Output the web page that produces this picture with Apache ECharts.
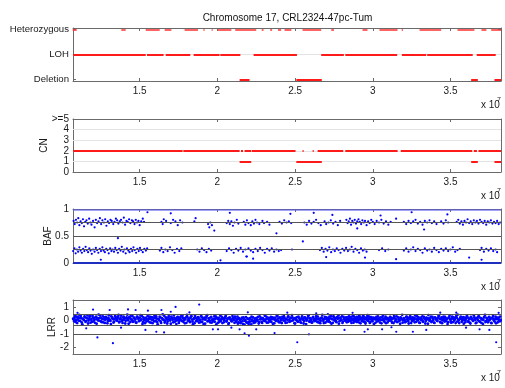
<!DOCTYPE html>
<html><head><meta charset="utf-8">
<script src="https://cdn.jsdelivr.net/npm/echarts@6/dist/echarts.min.js"></script>
<style>html,body{margin:0;padding:0;background:#fff}#c{width:505px;height:388px}</style>
</head><body><div id="c"></div><script>
const titleText = 'Chromosome 17, CRL2324-47pc-Tum';
const xMin = 1.071, xMax = 3.825;
const xTicks = [1.5, 2, 2.5, 3, 3.5];
const xExponentLabel = ['x 10', '7'];
const stateTicks = [0, 1, 2];
const stateLabels = ['Deletion', 'LOH', 'Heterozygous'];
const cnTicks = [0, 1, 2, 3, 4, 5];
const cnLabels = ['0', '1', '2', '3', '4', '>=5'];
const bafTicks = [0, 0.5, 1];
const lrrTicks = [-2, -1, 0, 1];
const panelNames = ['', 'CN', 'BAF', 'LRR'];

// state segments [start, end] (x 10^7)
const hetSegments = [[1.069,1.095],[1.382,1.410],[1.539,1.629],[1.661,1.704],[1.789,1.875],[1.910,1.918],[1.963,1.970],[2.002,2.090],[2.115,2.250],[2.285,2.297],[2.340,2.352],[2.390,2.410],[2.432,2.476],[2.548,2.668],[2.733,2.750],[2.934,2.966],[3.043,3.159],[3.186,3.194],[3.301,3.440],[3.545,3.654],[3.699,3.731],[3.762,3.825]];
const lohSegments = [[1.071,1.539],[1.547,1.654],[1.667,1.826],[1.847,2.014],[2.019,2.148],[2.233,2.512],[2.668,2.814],[2.823,3.157],[3.187,3.344],[3.350,3.643],[3.669,3.791]];
const delSegments = [[2.143,2.207],[2.508,2.672],[3.633,3.676],[3.783,3.825]];
// copy number segments
const cn2Segments = [[1.071,1.776],[1.781,2.143],[2.152,2.165],[2.175,2.218],[2.222,2.503],[2.548,2.555],[2.613,2.620],[2.645,2.810],[2.823,3.160],[3.180,3.640],[3.650,3.670],[3.680,3.825]];
const cn1Segments = [[2.143,2.218],[2.508,2.672],[3.633,3.676],[3.783,3.825]];

// BAF
const bafRefLines = [0.25, 0.5, 0.75];
const bafTopBand = [[1.071, 3.825]];
const bafTopLevel = 0.985;
const bafBottomBand = [[1.071, 3.825]];
const bafBottomLevel = 0.008;
const bafUpper = [[1.075,0.78],[1.082,0.72],[1.09,0.80],[1.098,0.75],[1.105,0.83],[1.112,0.70],[1.12,0.77],[1.128,0.74],[1.135,0.81],[1.142,0.68],[1.15,0.76],[1.158,0.79],[1.166,0.73],[1.175,0.82],[1.183,0.75],[1.19,0.71],[1.2,0.78],[1.21,0.66],[1.218,0.80],[1.226,0.74],[1.235,0.77],[1.244,0.83],[1.252,0.72],[1.26,0.79],[1.27,0.75],[1.278,0.81],[1.286,0.69],[1.295,0.77],[1.303,0.74],[1.312,0.80],[1.32,0.78],[1.33,0.72],[1.338,0.76],[1.347,0.82],[1.355,0.79],[1.363,0.73],[1.372,0.77],[1.38,0.80],[1.39,0.75],[1.398,0.84],[1.406,0.71],[1.415,0.78],[1.423,0.76],[1.432,0.81],[1.44,0.74],[1.45,0.79],[1.458,0.77],[1.467,0.72],[1.475,0.80],[1.483,0.75],[1.492,0.78],[1.50,0.70],[1.51,0.77],[1.52,0.82],[1.528,0.76],
[1.64,0.76],[1.648,0.72],[1.655,0.81],[1.67,0.78],[1.70,0.74],[1.715,0.80],[1.73,0.77],[1.745,0.70],[1.76,0.79],[1.775,0.75],[1.852,0.77],[1.86,0.83],[1.94,0.72],[1.948,0.66],[1.955,0.75],[1.965,0.70],
[2.06,0.74],[2.07,0.78],[2.08,0.72],[2.09,0.77],[2.10,0.69],[2.11,0.75],[2.125,0.80],[2.135,0.73],[2.17,0.76],[2.18,0.71],[2.19,0.79],[2.20,0.74],[2.215,0.70],[2.225,0.77],[2.235,0.73],[2.245,0.80],[2.255,0.75],[2.27,0.72],[2.29,0.78],[2.30,0.74],[2.32,0.76],[2.335,0.71],
[2.40,0.76],[2.415,0.73],[2.43,0.79],[2.445,0.75],[2.46,0.77],[2.475,0.74],[2.56,0.75],[2.575,0.71],[2.59,0.78],[2.605,0.73],[2.62,0.76],[2.635,0.80],[2.65,0.74],[2.665,0.70],[2.69,0.77],[2.70,0.72],[2.715,0.75],[2.73,0.79],[2.745,0.73],[2.76,0.76],[2.775,0.70],[2.79,0.78],
[2.83,0.80],[2.838,0.74],[2.845,0.77],[2.853,0.82],[2.86,0.71],[2.868,0.78],[2.876,0.75],[2.884,0.80],[2.892,0.73],[2.90,0.77],[2.908,0.81],[2.916,0.76],[2.925,0.72],[2.933,0.79],[2.942,0.75],[2.95,0.78],[2.96,0.70],[2.97,0.77],[2.98,0.74],[2.99,0.80],[3.00,0.76],[3.012,0.72],[3.025,0.78],[3.04,0.75],[3.055,0.80],[3.07,0.73],[3.085,0.77],[3.10,0.71],[3.115,0.76],[3.15,0.82],
[3.20,0.76],[3.215,0.72],[3.23,0.78],[3.245,0.74],[3.26,0.77],[3.275,0.80],[3.29,0.73],[3.305,0.76],[3.32,0.71],[3.335,0.78],[3.35,0.75],[3.365,0.79],[3.38,0.74],[3.395,0.77],[3.41,0.72],[3.44,0.77],[3.455,0.73],[3.47,0.79],[3.485,0.75],
[3.54,0.76],[3.55,0.80],[3.56,0.73],[3.57,0.77],[3.58,0.71],[3.59,0.78],[3.60,0.75],[3.61,0.81],[3.62,0.74],[3.63,0.77],[3.64,0.72],[3.65,0.79],[3.66,0.75],[3.67,0.78],[3.68,0.73],[3.69,0.80],[3.70,0.76],[3.71,0.74],[3.72,0.78],[3.73,0.71],[3.74,0.77],[3.75,0.75],[3.76,0.79],[3.77,0.73],[3.78,0.76],[3.79,0.74],[3.80,0.78],[3.81,0.72],[3.82,0.75]];
const bafLower = [[1.072,0.22],[1.08,0.27],[1.088,0.18],[1.096,0.25],[1.104,0.21],[1.112,0.29],[1.12,0.23],[1.128,0.19],[1.136,0.26],[1.144,0.22],[1.152,0.30],[1.16,0.24],[1.168,0.20],[1.176,0.27],[1.184,0.23],[1.192,0.17],[1.20,0.25],[1.21,0.21],[1.218,0.28],[1.226,0.24],[1.234,0.19],[1.243,0.26],[1.251,0.22],[1.26,0.29],[1.268,0.23],[1.276,0.20],[1.285,0.26],[1.293,0.24],[1.301,0.18],[1.31,0.27],[1.318,0.22],[1.326,0.25],[1.335,0.21],[1.343,0.28],[1.352,0.24],[1.36,0.19],[1.368,0.26],[1.377,0.23],[1.385,0.30],[1.394,0.21],[1.402,0.25],[1.41,0.18],[1.418,0.27],[1.427,0.23],[1.435,0.20],[1.444,0.26],[1.452,0.22],[1.46,0.29],[1.468,0.24],[1.477,0.19],[1.485,0.26],[1.494,0.22],[1.502,0.28],[1.51,0.24],[1.52,0.20],[1.53,0.26],[1.54,0.23],[1.548,0.27],
[1.63,0.23],[1.64,0.28],[1.652,0.20],[1.665,0.25],[1.68,0.22],[1.695,0.29],[1.71,0.24],[1.725,0.19],[1.74,0.26],[1.755,0.22],[1.768,0.27],[1.87,0.25],[1.885,0.21],[1.90,0.27],[1.915,0.24],[1.93,0.20],[1.945,0.26],[1.96,0.23],
[2.06,0.22],[2.075,0.27],[2.09,0.24],[2.105,0.19],[2.12,0.26],[2.135,0.23],[2.15,0.28],[2.165,0.21],[2.18,0.25],[2.19,0.12],[2.20,0.27],[2.215,0.23],[2.23,0.20],[2.245,0.26],[2.26,0.22],[2.275,0.28],[2.29,0.24],[2.305,0.19],[2.32,0.26],[2.335,0.23],[2.35,0.27],[2.365,0.21],[2.38,0.25],[2.395,0.22],[2.41,0.24],[2.48,0.25],
[2.66,0.24],[2.672,0.28],[2.684,0.21],[2.696,0.26],[2.708,0.23],[2.72,0.29],[2.732,0.20],[2.744,0.25],[2.756,0.22],[2.768,0.27],[2.78,0.24],[2.792,0.19],[2.804,0.26],[2.816,0.23],[2.828,0.28],[2.84,0.22],[2.852,0.25],[2.864,0.30],[2.876,0.21],[2.888,0.26],[2.90,0.24],[2.912,0.19],[2.924,0.27],[2.936,0.23],[2.948,0.25],[2.96,0.21],
[3.04,0.24],[3.06,0.27],[3.08,0.22],[3.10,0.25],[3.20,0.23],[3.215,0.27],[3.23,0.21],[3.245,0.25],[3.26,0.29],[3.275,0.22],[3.29,0.26],[3.305,0.24],[3.32,0.19],[3.335,0.27],[3.35,0.23],[3.365,0.25],[3.38,0.21],[3.395,0.28],[3.41,0.24],[3.425,0.20],[3.44,0.26],[3.455,0.23],[3.47,0.27],[3.485,0.22],[3.50,0.25],[3.515,0.29],[3.53,0.21],[3.545,0.24],[3.56,0.26],
[3.69,0.24],[3.70,0.28],[3.715,0.21],[3.73,0.26],[3.745,0.23],[3.76,0.27],[3.775,0.22],[3.79,0.25],[3.80,0.20]];
const bafOther = [[1.36,0.46],[2.186,0.12],[2.74,0.89],[2.90,0.64],[2.38,0.55],[1.98,0.60],[2.55,0.40],[3.33,0.62],[2.08,0.93],[2.47,0.91],[1.70,0.92],[3.05,0.88],[2.23,0.08],[3.62,0.10],[2.70,0.11],[2.95,0.10],[1.55,0.94],[2.62,0.93],[3.25,0.94],[3.48,0.90],[1.25,0.06],[2.02,0.05],[3.15,0.07],[3.70,0.06]];

// LRR
const lrrRefLines = [0.47, -0.4, -1];
const lrrPoints = [[1.072,0.12],[1.079,-0.08],[1.085,0.31],[1.091,0.02],[1.098,-0.21],[1.104,0.22],[1.111,0.40],[1.117,-0.05],[1.124,0.15],[1.131,-0.30],[1.138,0.07],[1.145,0.28],[1.151,-0.12],[1.158,0.18],[1.164,0.36],
[1.171,-0.02],[1.177,0.25],[1.184,-0.18],[1.190,0.10],[1.197,0.33],[1.203,-0.09],[1.210,0.04],[1.216,0.21],[1.223,-0.25],[1.230,0.13],[1.236,0.42],[1.243,-0.04],[1.250,0.17],[1.256,-0.14],[1.263,0.29],
[1.270,0.06],[1.276,-0.20],[1.283,0.24],[1.289,0.11],[1.296,-0.07],[1.302,0.37],[1.309,0.01],[1.315,-0.28],[1.322,0.19],[1.329,0.08],[1.335,-0.11],[1.342,0.30],[1.348,0.14],[1.355,-0.03],[1.361,0.26],
[1.368,-0.16],[1.374,0.09],[1.381,0.34],[1.387,-0.06],[1.394,0.20],[1.400,0.03],[1.407,-0.24],[1.413,0.16],[1.420,0.41],[1.426,-0.01],[1.433,0.23],[1.440,-0.13],[1.446,0.10],[1.453,0.32],[1.459,-0.08],
[1.466,0.18],[1.472,0.05],[1.479,-0.19],[1.485,0.27],[1.492,0.12],[1.498,-0.04],[1.505,0.38],[1.511,0.07],[1.518,-0.27],[1.524,0.21],[1.531,0.00],[1.537,0.15],[1.544,-0.10],[1.551,0.30],[1.557,0.09],
[1.564,-0.15],[1.570,0.24],[1.577,0.04],[1.583,-0.22],[1.590,0.19],[1.596,0.35],[1.603,-0.05],[1.609,0.13],[1.616,-0.30],[1.622,0.08],[1.629,0.27],[1.635,-0.09],[1.642,0.16],[1.648,0.43],[1.655,0.02],
[1.661,-0.17],[1.668,0.22],[1.674,0.06],[1.681,-0.08],[1.687,0.31],[1.694,0.11],[1.700,-0.26],[1.707,0.18],[1.713,0.03],[1.720,0.36],[1.726,-0.12],[1.733,0.14],[1.739,-0.02],[1.746,0.25],[1.752,-0.20],
[1.759,0.09],[1.765,0.29],[1.772,-0.06],[1.778,0.17],[1.785,0.01],[1.791,-0.23],[1.798,0.21],[1.804,0.39],[1.811,-0.03],[1.817,0.12],[1.824,-0.14],[1.830,0.26],[1.837,0.05],[1.843,-0.29],[1.850,0.15],
[1.856,0.33],[1.863,-0.07],[1.869,0.10],[1.876,0.23],[1.882,-0.18],[1.889,0.04],[1.895,0.30],[1.902,-0.11],[1.908,0.16],[1.915,0.07],[1.921,-0.25],[1.928,0.20],[1.934,0.37],[1.941,-0.04],[1.947,0.13],
[1.954,-0.16],[1.960,0.24],[1.967,0.02],[1.973,-0.09],[1.980,0.28],[1.986,0.11],[1.993,-0.31],[1.999,0.18],[2.006,0.06],[2.012,-0.13],[2.019,0.34],[2.025,0.08],[2.032,-0.21],[2.038,0.15],[2.045,0.00],
[2.051,0.25],[2.058,-0.10],[2.064,0.12],[2.071,-0.27],[2.077,0.19],[2.084,0.05],[2.090,-0.05],[2.097,0.31],[2.103,0.09],[2.110,-0.19],[2.116,0.16],[2.123,-0.02],[2.129,0.27],[2.136,-0.14],[2.142,0.07],
[2.149,-0.22],[2.155,0.10],[2.162,-0.08],[2.168,0.21],[2.175,-0.33],[2.181,0.02],[2.188,-0.15],[2.194,0.14],[2.201,-0.27],[2.207,0.05],[2.214,-0.10],[2.220,0.26],[2.227,-0.04],[2.233,-0.20],[2.240,0.11],
[2.246,-0.07],[2.253,0.18],[2.259,0.03],[2.266,-0.24],[2.272,0.29],[2.279,0.08],[2.285,-0.12],[2.292,0.15],[2.298,-0.02],[2.305,0.33],[2.311,0.06],[2.318,-0.18],[2.324,0.20],[2.331,0.01],[2.337,-0.09],
[2.344,0.24],[2.350,0.10],[2.357,-0.26],[2.363,0.17],[2.370,0.04],[2.376,-0.06],[2.383,0.36],[2.389,0.12],[2.396,-0.15],[2.402,0.22],[2.409,0.00],[2.415,-0.21],[2.422,0.14],[2.428,0.30],[2.435,-0.03],
[2.441,0.09],[2.448,-0.17],[2.454,0.26],[2.461,0.05],[2.467,-0.08],[2.474,0.19],[2.480,0.38],[2.487,-0.01],[2.493,0.13],[2.500,-0.24],[2.506,0.07],[2.513,0.23],[2.519,-0.11],[2.526,0.16],[2.532,0.02],
[2.539,-0.19],[2.545,0.28],[2.552,0.10],[2.558,-0.05],[2.565,0.20],[2.571,-0.28],[2.578,0.06],[2.584,0.33],[2.591,-0.09],[2.597,0.15],[2.604,0.01],[2.610,-0.16],[2.617,0.25],[2.623,0.08],[2.630,-0.03],
[2.636,0.31],[2.643,-0.13],[2.649,0.12],[2.656,0.04],[2.662,-0.22],[2.669,0.18],[2.675,0.39],[2.682,-0.06],[2.688,0.09],[2.695,-0.18],[2.701,0.22],[2.708,0.03],[2.714,-0.10],[2.721,0.27],[2.727,0.14],
[2.734,-0.25],[2.740,0.07],[2.747,0.30],[2.753,-0.02],[2.760,0.16],[2.766,-0.14],[2.773,0.11],[2.779,0.35],[2.786,-0.07],[2.792,0.19],[2.799,0.02],[2.805,-0.20],[2.812,0.24],[2.818,0.08],[2.825,-0.04],
[2.831,0.17],[2.836,0.05],[2.841,-0.12],[2.846,0.28],[2.851,0.10],[2.856,-0.06],[2.861,0.21],[2.866,0.00],[2.871,0.34],[2.876,-0.18],[2.881,0.13],[2.886,0.07],[2.891,-0.09],[2.896,0.25],[2.901,0.15],[2.906,-0.02],[2.911,0.30],[2.916,0.09],[2.921,-0.23],[2.926,0.18],
[2.931,0.04],[2.936,-0.08],[2.941,0.26],[2.946,0.12],[2.951,-0.15],[2.956,0.20],[2.961,0.02],[2.966,0.37],[2.971,-0.05],[2.976,0.14],[2.981,-0.20],[2.986,0.08],[2.991,0.23],[2.996,-0.01],[3.001,0.11],
[3.007,-0.27],[3.013,0.16],[3.020,0.05],[3.026,-0.10],[3.033,0.29],[3.039,0.09],[3.046,-0.17],[3.052,0.21],[3.059,0.01],[3.065,0.34],[3.072,-0.06],[3.078,0.13],[3.085,-0.22],[3.091,0.18],[3.098,0.06],
[3.104,-0.03],[3.111,0.25],[3.117,0.10],[3.124,-0.19],[3.130,0.15],[3.137,0.32],[3.143,-0.08],[3.150,0.07],[3.156,-0.13],[3.163,0.22],[3.169,0.03],[3.176,-0.26],[3.182,0.17],[3.189,0.40],[3.195,-0.01],
[3.202,0.12],[3.208,-0.15],[3.215,0.24],[3.221,0.05],[3.228,-0.07],[3.234,0.19],[3.241,0.30],[3.247,-0.21],[3.254,0.09],[3.260,-0.02],[3.267,0.16],[3.273,0.35],[3.280,-0.11],[3.286,0.06],[3.293,0.23],
[3.299,-0.18],[3.306,0.11],[3.312,0.02],[3.319,0.28],[3.325,-0.09],[3.332,0.14],[3.338,-0.24],[3.345,0.20],[3.351,0.07],[3.358,0.38],[3.364,-0.04],[3.371,0.16],[3.377,-0.13],[3.384,0.25],[3.390,0.03],
[3.397,-0.20],[3.403,0.18],[3.410,0.09],[3.416,-0.06],[3.423,0.31],[3.429,0.12],[3.436,-0.16],[3.442,0.21],[3.449,0.00],[3.455,0.27],[3.462,-0.10],[3.468,0.15],[3.475,0.05],[3.481,-0.28],[3.488,0.19],
[3.494,0.34],[3.501,-0.05],[3.507,0.13],[3.514,-0.14],[3.520,0.22],[3.527,0.06],[3.533,-0.21],[3.540,0.17],[3.546,0.41],[3.553,-0.02],[3.559,0.10],[3.566,0.26],[3.572,-0.12],[3.579,0.08],[3.585,-0.25],
[3.592,0.20],[3.598,0.03],[3.605,0.31],[3.611,-0.08],[3.618,0.14],[3.624,-0.17],[3.631,0.24],[3.637,0.07],[3.644,-0.04],[3.650,0.36],[3.657,0.11],[3.663,-0.22],[3.670,0.18],[3.676,0.01],[3.683,0.28],
[3.689,-0.11],[3.696,0.15],[3.702,0.05],[3.709,-0.27],[3.715,0.21],[3.722,0.39],[3.728,-0.06],[3.735,0.12],[3.741,-0.15],[3.748,0.25],[3.754,0.04],[3.761,-0.19],[3.767,0.17],[3.774,0.32],[3.780,-0.03],
[3.787,0.10],[3.793,-0.23],[3.800,0.20],[3.806,0.07],[3.813,-0.09],[3.819,0.27],[3.823,0.02]];
const lrrPointsB = [[1.075,0.05],[1.082,0.19],[1.088,-0.13],[1.095,0.26],[1.101,0.09],[1.107,-0.03],[1.114,0.17],[1.121,0.32],[1.127,-0.16],[1.134,0.11],[1.141,0.01],[1.148,0.23],[1.155,-0.07],[1.161,0.14],[1.168,-0.24],
[1.174,0.08],[1.181,0.30],[1.187,0.04],[1.194,-0.11],[1.200,0.20],[1.207,0.12],[1.213,-0.19],[1.220,0.27],[1.226,0.06],[1.233,-0.02],[1.240,0.16],[1.246,0.35],[1.253,-0.09],[1.259,0.10],[1.266,-0.15],
[1.273,0.22],[1.279,0.03],[1.286,0.13],[1.292,-0.23],[1.299,0.18],[1.305,0.07],[1.312,-0.05],[1.318,0.29],[1.325,0.15],[1.332,-0.17],[1.338,0.09],[1.345,0.24],[1.351,-0.01],[1.358,0.11],[1.364,0.39],
[1.371,-0.10],[1.377,0.17],[1.384,0.05],[1.390,-0.20],[1.397,0.26],[1.403,0.13],[1.410,-0.04],[1.416,0.21],[1.423,0.08],[1.429,-0.26],[1.436,0.15],[1.443,0.33],[1.449,0.02],[1.456,-0.12],[1.462,0.19],
[1.469,0.07],[1.475,-0.16],[1.482,0.24],[1.488,0.14],[1.495,-0.07],[1.501,0.20],[1.508,0.02],[1.514,0.31],[1.521,-0.13],[1.527,0.10],[1.534,-0.22],[1.541,0.17],[1.547,0.06],[1.554,-0.03],[1.560,0.26],
[1.567,0.12],[1.573,-0.18],[1.580,0.21],[1.586,0.03],[1.593,-0.09],[1.599,0.16],[1.606,0.29],[1.612,-0.14],[1.619,0.09],[1.625,0.00],[1.632,0.22],[1.638,-0.20],[1.645,0.13],[1.651,0.05],[1.658,0.33],
[1.664,-0.06],[1.671,0.15],[1.677,-0.24],[1.684,0.20],[1.690,0.08],[1.697,-0.02],[1.703,0.27],[1.710,0.11],[1.716,-0.15],[1.723,0.18],[1.729,0.04],[1.736,-0.28],[1.742,0.23],[1.749,0.10],[1.755,-0.05],
[1.762,0.19],[1.768,0.01],[1.775,0.34],[1.781,-0.12],[1.788,0.14],[1.794,0.06],[1.801,-0.19],[1.807,0.25],[1.814,0.09],[1.820,-0.04],[1.827,0.17],[1.833,0.30],[1.840,-0.10],[1.846,0.07],[1.853,-0.22],
[1.859,0.21],[1.866,0.12],[1.872,-0.06],[1.879,0.16],[1.885,0.02],[1.892,-0.14],[1.898,0.26],[1.905,0.08],[1.911,-0.27],[1.918,0.19],[1.924,0.04],[1.931,0.31],[1.937,-0.09],[1.944,0.13],[1.950,-0.01],
[1.957,0.22],[1.963,-0.18],[1.970,0.10],[1.976,0.05],[1.983,-0.11],[1.989,0.28],[1.996,0.15],[2.002,-0.20],[2.009,0.18],[2.015,0.02],[2.022,-0.06],[2.028,0.24],[2.035,0.09],[2.041,-0.15],[2.048,0.14],
[2.054,0.32],[2.061,-0.04],[2.067,0.11],[2.074,-0.21],[2.080,0.20],[2.087,0.06],[2.093,-0.09],[2.100,0.17],[2.106,0.01],[2.113,0.26],[2.119,-0.13],[2.126,0.08],[2.132,-0.25],[2.139,0.15],[2.145,0.03],
[2.152,-0.10],[2.158,0.19],[2.165,-0.28],[2.171,0.06],[2.178,-0.05],[2.184,0.23],[2.191,-0.18],[2.197,0.09],[2.204,-0.12],[2.210,0.16],[2.217,-0.30],[2.223,0.04],[2.230,0.21],[2.236,-0.08],[2.243,-0.16],
[2.249,0.13],[2.256,-0.03],[2.262,0.25],[2.269,-0.14],[2.275,0.07],[2.282,0.18],[2.288,-0.20],[2.295,0.10],[2.301,0.02],[2.308,-0.07],[2.314,0.27],[2.321,0.12],[2.327,-0.17],[2.334,0.15],[2.340,0.04],
[2.347,-0.11],[2.353,0.22],[2.360,0.08],[2.366,-0.23],[2.373,0.19],[2.379,0.01],[2.386,0.30],[2.392,-0.06],[2.399,0.14],[2.405,-0.16],[2.412,0.09],[2.418,0.24],[2.425,-0.02],[2.431,0.17],[2.438,-0.19],
[2.444,0.11],[2.451,0.03],[2.457,0.28],[2.464,-0.12],[2.470,0.15],[2.477,-0.05],[2.483,0.21],[2.490,0.07],[2.496,-0.22],[2.503,0.18],[2.509,0.00],[2.516,-0.09],[2.522,0.26],[2.529,0.12],[2.535,-0.15],
[2.542,0.14],[2.548,0.04],[2.555,-0.24],[2.561,0.22],[2.568,0.09],[2.574,-0.03],[2.581,0.17],[2.587,0.36],[2.594,-0.12],[2.600,0.08],[2.607,-0.18],[2.613,0.20],[2.620,0.02],[2.626,-0.07],[2.633,0.15],
[2.639,0.05],[2.646,0.27],[2.652,-0.16],[2.659,0.11],[2.665,-0.04],[2.672,0.19],[2.678,0.07],[2.685,-0.21],[2.691,0.24],[2.698,0.12],[2.704,-0.08],[2.711,0.16],[2.717,0.01],[2.724,-0.14],[2.730,0.30],
[2.737,0.10],[2.743,-0.19],[2.750,0.20],[2.756,0.05],[2.763,-0.06],[2.769,0.23],[2.776,0.13],[2.782,-0.25],[2.789,0.15],[2.795,0.03],[2.802,0.28],[2.808,-0.10],[2.815,0.12],[2.821,-0.01],[2.828,0.22],
[2.833,-0.15],[2.838,0.19],[2.843,0.08],[2.848,-0.04],[2.853,0.24],[2.858,0.14],[2.863,-0.20],[2.868,0.11],[2.873,0.03],[2.878,0.29],[2.883,-0.07],[2.888,0.17],[2.893,0.06],[2.898,-0.13],[2.903,0.21],
[2.908,0.01],[2.913,-0.17],[2.918,0.26],[2.923,0.10],[2.928,-0.05],[2.933,0.16],[2.938,0.33],[2.943,-0.11],[2.948,0.07],[2.953,-0.24],[2.958,0.13],[2.963,0.22],[2.968,-0.02],[2.973,0.09],[2.978,0.27],
[2.983,-0.14],[2.988,0.15],[2.993,0.04],[2.998,-0.08],[3.004,0.20],[3.010,0.08],[3.017,-0.19],[3.023,0.25],[3.030,0.11],[3.036,-0.04],[3.043,0.16],[3.049,0.02],[3.056,-0.23],[3.062,0.19],[3.069,0.09],
[3.075,-0.11],[3.082,0.27],[3.088,0.06],[3.095,-0.16],[3.101,0.14],[3.108,0.00],[3.114,0.23],[3.121,-0.08],[3.127,0.12],[3.134,-0.21],[3.140,0.18],[3.147,0.04],[3.153,0.29],[3.160,-0.12],[3.166,0.10],
[3.173,-0.03],[3.179,0.21],[3.186,0.07],[3.192,-0.18],[3.199,0.15],[3.205,0.02],[3.212,-0.10],[3.218,0.26],[3.225,0.13],[3.231,-0.24],[3.238,0.09],[3.244,0.17],[3.251,-0.06],[3.257,0.22],[3.264,0.04],
[3.270,-0.15],[3.277,0.12],[3.283,0.31],[3.290,-0.01],[3.296,0.08],[3.303,-0.20],[3.309,0.19],[3.316,0.06],[3.322,-0.12],[3.329,0.24],[3.335,0.10],[3.342,-0.04],[3.348,0.16],[3.355,-0.26],[3.361,0.13],
[3.368,0.03],[3.374,0.27],[3.381,-0.09],[3.387,0.11],[3.394,-0.17],[3.400,0.21],[3.407,0.05],[3.413,-0.02],[3.420,0.18],[3.426,0.34],[3.433,-0.13],[3.439,0.08],[3.446,-0.22],[3.452,0.16],[3.459,0.01],
[3.465,0.24],[3.472,-0.07],[3.478,0.12],[3.485,-0.14],[3.491,0.20],[3.498,0.07],[3.504,-0.18],[3.511,0.26],[3.517,0.11],[3.524,-0.03],[3.530,0.15],[3.537,0.30],[3.543,-0.10],[3.550,0.05],[3.556,-0.21],
[3.563,0.18],[3.569,0.09],[3.576,-0.06],[3.582,0.23],[3.589,0.02],[3.595,-0.15],[3.602,0.14],[3.608,0.27],[3.615,-0.11],[3.621,0.07],[3.628,-0.24],[3.634,0.19],[3.641,0.10],[3.647,-0.04],[3.654,0.22],
[3.660,0.03],[3.667,-0.17],[3.673,0.13],[3.680,0.29],[3.686,-0.08],[3.693,0.16],[3.699,-0.20],[3.706,0.09],[3.712,0.01],[3.719,0.24],[3.725,-0.13],[3.732,0.18],[3.738,0.06],[3.745,-0.05],[3.751,0.21],
[3.758,0.11],[3.764,-0.22],[3.771,0.15],[3.777,0.04],[3.784,-0.10],[3.790,0.26],[3.797,0.08],[3.803,-0.16],[3.810,0.19],[3.816,0.02],[3.821,-0.06]];
const lrrOutliers = [[1.228,-1.27],[1.328,-1.70],[1.883,1.16],[1.731,0.99],[1.607,-0.85],[1.657,-0.90],[2.175,-0.97],[2.203,-1.14],[2.196,0.59],[1.20,0.79],[1.307,0.76],[1.425,0.80],[1.474,0.76],[1.537,-0.72],[1.553,0.71],[1.64,0.76],[1.70,0.63],[1.971,-0.67],[2.004,-0.67],[2.143,-0.67],[1.156,-0.60],[2.514,-1.63],[3.794,-1.63],[3.434,0.56],[2.589,-1.04],[2.368,-0.95],[2.947,-0.85],[3.258,-0.85],[2.25,-0.67],[2.636,0.51],[2.711,0.46],[2.818,-0.72],[2.968,-0.67],[3.06,-0.67],[3.151,-0.85],[3.344,-0.72],[3.537,0.56],[3.687,-0.67],[3.75,-0.72],[1.10,0.55],[1.38,-0.55],[1.82,0.58],[2.09,-0.55],[2.45,0.56],[2.87,0.55],[3.12,-0.52],[3.60,-0.55],[3.81,0.55]];

const FONT = '"Liberation Sans", Arial, Helvetica, sans-serif';
const AX = '#6a6a6a';
const panels = [{top:28,h:53},{top:119,h:53},{top:209,h:54},{top:300,h:54}];
const yCfg = [
  {min:-0.05, max:2.06, ticks:stateTicks, fmt:v=>stateLabels[stateTicks.indexOf(v)]},
  {min:0, max:5, ticks:cnTicks, fmt:v=>cnLabels[cnTicks.indexOf(v)]},
  {min:0, max:1, ticks:bafTicks, fmt:v=>String(v)},
  {min:-2.5, max:1.5, ticks:lrrTicks, fmt:v=>String(v)}
];
const nameX = [0, 44.5, 48, 52.5];

const grid = panels.map(p => ({left:73, right:4, top:p.top, height:p.h, containLabel:false}));
const xAxis = [], yAxis = [];
panels.forEach((p,i) => {
  xAxis.push({gridIndex:i, type:'value', min:xMin, max:xMax, position:'bottom',
    axisLine:{onZero:false, lineStyle:{color:AX, width:1}},
    axisTick:{inside:true, length:3, customValues:xTicks, lineStyle:{color:AX}},
    axisLabel:{customValues:xTicks, margin:5, fontSize:10, color:'#1a1a1a', fontFamily:FONT, formatter:v=>String(v)},
    splitLine:{show:false}});
  yAxis.push({gridIndex:i, type:'value', min:yCfg[i].min, max:yCfg[i].max, position:'left',
    axisLine:{onZero:false, lineStyle:{color:AX, width:1}},
    axisTick:{inside:true, length:3, customValues:yCfg[i].ticks, lineStyle:{color:AX}},
    axisLabel:{customValues:yCfg[i].ticks, margin:4, fontSize:i===0?9.6:10, color:'#1a1a1a', fontFamily:FONT, formatter:yCfg[i].fmt},
    splitLine:{show:false}});
});
panels.forEach((p,i) => {
  xAxis.push({gridIndex:i, type:'value', min:xMin, max:xMax, position:'top',
    axisLine:{onZero:false, lineStyle:{color:AX, width:1}},
    axisTick:{inside:true, length:3, customValues:xTicks, lineStyle:{color:AX}},
    axisLabel:{show:false, customValues:xTicks}, splitLine:{show:false}});
  yAxis.push({gridIndex:i, type:'value', min:yCfg[i].min, max:yCfg[i].max, position:'right',
    axisLine:{onZero:false, lineStyle:{color:AX, width:1}},
    axisTick:{inside:true, length:3, customValues:yCfg[i].ticks, lineStyle:{color:AX}},
    axisLabel:{show:false, customValues:yCfg[i].ticks}, splitLine:{show:false}});
});

function segSeries(i, segs, y, color, width, z){
  return {type:'lines', coordinateSystem:'cartesian2d', xAxisIndex:i, yAxisIndex:i, polyline:false,
    silent:true, animation:false, z:z||2,
    data: segs.map(s => ({coords:[[s[0],y],[s[1],y]]})),
    lineStyle:{color:color, width:width, opacity:1, cap:'butt'}};
}
function hLines(i, vals, color, width, z){
  return {type:'lines', coordinateSystem:'cartesian2d', xAxisIndex:i, yAxisIndex:i,
    silent:true, animation:false, z:z||1,
    data: vals.map(v => ({coords:[[xMin,v],[xMax,v]]})),
    lineStyle:{color:color, width:width, opacity:1}};
}
function scatter(i, pts, color, size, z){
  return {type:'scatter', xAxisIndex:i, yAxisIndex:i, data:pts, symbol:'circle', symbolSize:size,
    itemStyle:{color:color, opacity:1}, silent:true, animation:false, z:z||3, large:false};
}

const RED = '#ff1a1a', BLUE = '#0000ff';
const series = [
  hLines(0, [1], '#e4e4e4', 1, 1),
  segSeries(0, hetSegments, 2, '#ff3030', 1.6),
  segSeries(0, lohSegments, 1, RED, 2),
  segSeries(0, delSegments, 0, RED, 2),
  hLines(1, [1,2,3,4], '#e4e4e4', 1, 1),
  segSeries(1, cn2Segments, 2, RED, 2),
  segSeries(1, cn1Segments, 1, RED, 2),
  hLines(2, bafRefLines, '#555555', 1, 4),
  segSeries(2, bafTopBand, bafTopLevel, 'rgba(90,90,240,0.55)', 2, 2),
  segSeries(2, bafBottomBand, bafBottomLevel, '#1f2fc0', 2, 2),
  scatter(2, bafUpper, BLUE, 2.2),
  scatter(2, bafLower, BLUE, 2.2),
  scatter(2, bafOther, BLUE, 2.2),
  hLines(3, lrrRefLines, '#555555', 1, 4),
  scatter(3, lrrPoints, BLUE, 2.8),
  scatter(3, lrrPointsB, BLUE, 2.8),
  scatter(3, lrrOutliers, BLUE, 2.2)
];

const graphic = [{type:'text', x:287.5, y:18, style:{text:titleText, fontSize:10, fontFamily:FONT, fill:'#111', align:'center', verticalAlign:'middle'}}];
panels.forEach((p,i) => {
  const b = p.top + p.h;
  graphic.push({type:'text', x:481, y:b+24, style:{text:xExponentLabel[0], fontSize:10, fontFamily:FONT, fill:'#1a1a1a', align:'left', verticalAlign:'middle'}});
  graphic.push({type:'text', x:497, y:b+19, style:{text:xExponentLabel[1], fontSize:7, fontFamily:FONT, fill:'#1a1a1a', align:'left', verticalAlign:'middle'}});
  if (panelNames[i]) {
    graphic.push({type:'text', x:nameX[i], y:p.top + p.h/2, rotation:Math.PI/2,
      style:{text:panelNames[i], fontSize:10, fontFamily:FONT, fill:'#1a1a1a', align:'center', verticalAlign:'middle'}});
  }
});

const chart = echarts.init(document.getElementById('c'), null, {renderer:'canvas'});
chart.setOption({animation:false, backgroundColor:'#fff', grid, xAxis, yAxis, series, graphic});
</script></body></html>
